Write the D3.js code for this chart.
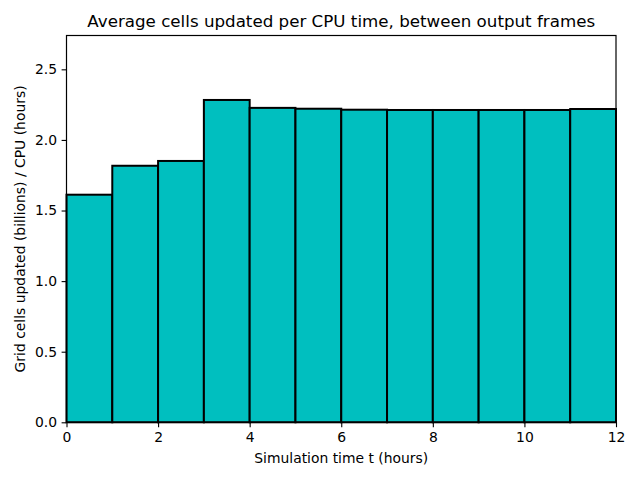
<!DOCTYPE html>
<html><head><meta charset="utf-8">
<script src="https://cdn.jsdelivr.net/npm/d3@7"></script>
<style>body{margin:0;background:#fff}svg{display:block}text{font-family:"DejaVu Sans",sans-serif;fill:#000}</style>
</head><body><svg id="c" width="640" height="480"></svg>
<script>
const binStarts = [0,1,2,3,4,5,6,7,8,9,10,11];
const binWidth = 1;
const values = [1.612,1.817,1.851,2.283,2.227,2.221,2.214,2.212,2.212,2.212,2.212,2.219];
const xTicks = [0,2,4,6,8,10,12];
const yTicks = [0,0.5,1.0,1.5,2.0,2.5];
const title = "Average cells updated per CPU time, between output frames";
const xLabel = "Simulation time t (hours)";
const yLabel = "Grid cells updated (billions) / CPU (hours)";

const svg = d3.select("#c");
const L=66.5, R=616, T=35.5, B=422.3;
const x = d3.scaleLinear().domain([0,12]).range([L,R]);
const y = d3.scaleLinear().domain([0,d3.max(values)*1.2]).range([B,T]);

svg.append("g").selectAll("rect").data(values).join("rect")
  .attr("x",(d,i)=>x(binStarts[i]))
  .attr("width",(d,i)=>x(binStarts[i]+binWidth)-x(binStarts[i]))
  .attr("y",d=>y(d)).attr("height",d=>B-y(d))
  .attr("fill","#00bfbf").attr("stroke","#000").attr("stroke-width",2);

svg.append("rect").attr("x",L).attr("y",T).attr("width",R-L).attr("height",B-T)
  .attr("fill","none").attr("stroke","#000").attr("stroke-width",1.2);

const xa = svg.append("g").attr("transform",`translate(0,${B})`)
  .call(d3.axisBottom(x).tickValues(xTicks).tickFormat(d3.format("d")).tickSize(4.9).tickPadding(4.5));
const ya = svg.append("g").attr("transform",`translate(${L},0)`)
  .call(d3.axisLeft(y).tickValues(yTicks).tickFormat(d3.format(".1f")).tickSize(4.9).tickPadding(4.5));
[xa,ya].forEach(a=>{a.select(".domain").remove();a.selectAll("line").attr("stroke","#000").attr("stroke-width",1.1);
  a.selectAll("text").attr("font-size","13.9px").attr("font-family","DejaVu Sans").attr("fill","#000");});

svg.append("text").attr("x",(L+R)/2).attr("y",27).attr("text-anchor","middle").attr("font-size","16.7px").text(title);
svg.append("text").attr("x",(L+R)/2).attr("y",463).attr("text-anchor","middle").attr("font-size","13.9px").text(xLabel);
svg.append("text").attr("transform",`translate(25,${(T+B)/2}) rotate(-90)`).attr("text-anchor","middle").attr("font-size","13.9px").text(yLabel);
</script></body></html>
